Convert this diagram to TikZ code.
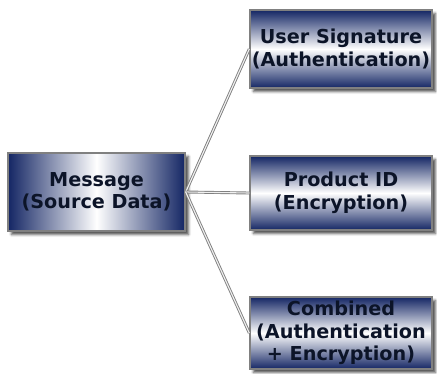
\documentclass[tikz,border=0pt]{standalone}
\usepackage{fontspec}
\setmainfont{DejaVu Sans}
\usetikzlibrary{shadows.blur}
\definecolor{boxnavy}{RGB}{20,38,100}
\definecolor{textnavy}{RGB}{12,20,40}

\begin{document}
\begin{tikzpicture}[x=1pt,y=-1pt]
      \tikzset{box/.style={draw=gray, line width=1.4pt, align=center, text=textnavy,
               font=\bfseries\fontsize{19.2}{22.5}\selectfont,
               blur shadow={shadow xshift=3.5pt, shadow yshift=-3.5pt, shadow blur radius=2.5pt,
                            shadow opacity=70}},
               hbox/.style={box, left color=boxnavy, right color=boxnavy, middle color=white},
               vbox/.style={box, top color=boxnavy, bottom color=boxnavy, middle color=white,
                            minimum width=182pt, inner xsep=0.5pt},
               link/.style={draw=gray, double=gray!12, double distance=1.1pt, line width=0.9pt}}
      \useasboundingbox (0,0) rectangle (437,373);

      \node[hbox, minimum width=177pt, minimum height=78pt] (msg) at (96.5,192)
          {Message\\(Source Data)};
      \node[vbox, minimum height=78pt] (sig) at (341,49)
          {User Signature\\(Authentication)};
      \node[vbox, minimum height=74pt] (pid) at (341,193)
          {Product ID\\(Encryption)};
      \node[vbox, minimum height=72pt, inner ysep=2pt] (comb) at (341,333)
          {Combined\\(Authentication\\+ Encryption)};

      \draw[link] (msg.east) -- (sig.west);
      \draw[link] (msg.east) -- (pid.west);
      \draw[link] (msg.east) -- (comb.west);
    \end{tikzpicture}
\end{document}
